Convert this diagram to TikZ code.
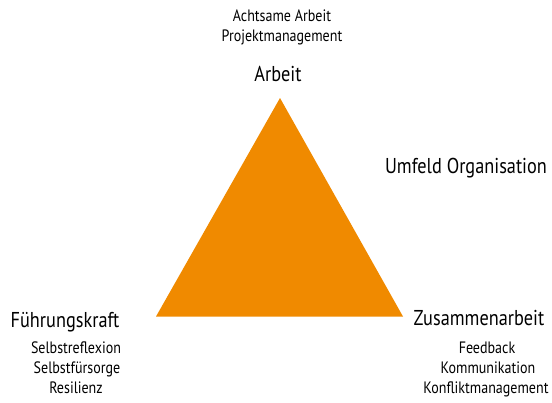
\documentclass[tikz,border=0pt]{standalone}
\usepackage{fontspec}
\setmainfont[FakeStretch=0.85]{PT Sans}
\definecolor{tri}{RGB}{240,138,0}
\begin{document}
\begin{tikzpicture}[x=1pt,y=-1pt,
  head/.style={inner sep=0pt, anchor=base, font=\fontsize{21.5}{24}\selectfont},
  sub/.style={inner sep=0pt, anchor=base, font=\fontsize{16.5}{19}\selectfont}]
\useasboundingbox (0,0) rectangle (552,402);
\coordinate (top) at (280,98);
\coordinate (right) at (403,316.5);
\coordinate (left) at (156,316.5);
\fill[tri] (top) -- (right) -- (left) -- cycle;
% top
\node[sub] (a1) at (282,21) {Achtsame Arbeit};
\node[sub] (a2) at (282,41) {Projektmanagement};
\node[head] (arbeit) at (278,81) {Arbeit};
% right middle
\node[head] (umfeld) at (466,173) {Umfeld Organisation};
% left
\node[head] (fuehrung) at (65,327) {Führungskraft};
\node[sub] (l1) at (76,353) {Selbstreflexion};
\node[sub] (l2) at (77,373) {Selbstfürsorge};
\node[sub] (l3) at (76,393) {Resilienz};
% right
\node[head] (zusammen) at (479,325) {Zusammenarbeit};
\node[sub] (r1) at (487,353) {Feedback};
\node[sub] (r2) at (488,373) {Kommunikation};
\node[sub] (r3) at (486,393) {Konfliktmanagement};
\end{tikzpicture}
\end{document}
